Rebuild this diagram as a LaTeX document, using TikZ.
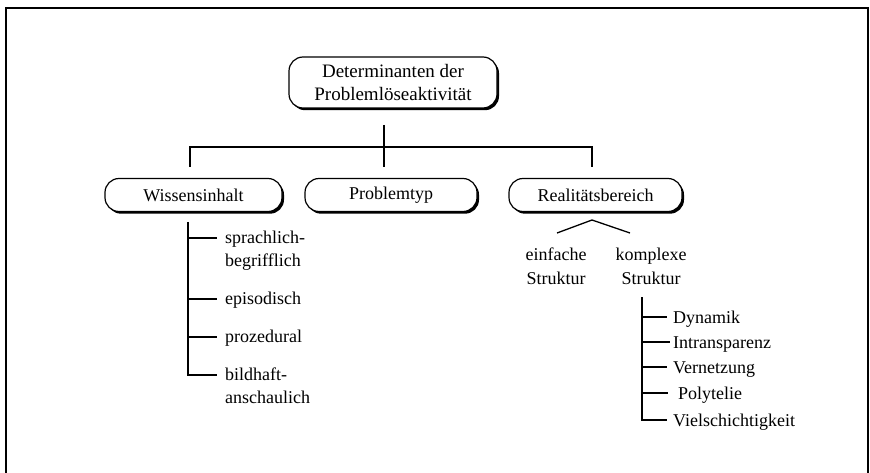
\documentclass[tikz,border=0pt]{standalone}
\usepackage{fontspec}
\setmainfont{Liberation Serif}
\usetikzlibrary{shadows}
\begin{document}
\begin{tikzpicture}[x=1pt,y=-1pt,
  box/.style={draw, line width=1.2pt, rounded corners=14pt, fill=white, inner sep=0pt,
    font=\fontsize{18}{23}\selectfont,
    drop shadow={shadow xshift=2pt, shadow yshift=-2.2pt, fill=black, opacity=1}},
  conn/.style={line width=1.3pt},
  lbl/.style={inner sep=0pt, font=\fontsize{18}{23}\selectfont, align=left, anchor=base west},
  clbl/.style={inner sep=0pt, font=\fontsize{18}{24}\selectfont, align=center, anchor=base},
  frame/.style={line width=1.5pt}]
\useasboundingbox (0,0) rectangle (870,473);
\draw[frame] (6,473) -- (6,8) -- (868,8) -- (868,473);

% boxes
\node[box, minimum width=208pt, minimum height=51pt, align=center,
  font=\fontsize{19}{23}\selectfont] (root) at (393,82.5)
  {Determinanten der\\Problemlöseaktivität};
\node[box, minimum width=177pt, minimum height=33pt] (w) at (193.5,195) {Wissensinhalt};
\node[box, minimum width=172pt, minimum height=33pt] (p) at (391,195) {Problemtyp};
\node[box, minimum width=173pt, minimum height=33pt] (r) at (595.5,195) {Realitätsbereich};

% top tree
\coordinate (rootdrop) at (384,125);
\coordinate (jl) at (190,147);
\coordinate (jr) at (592,147);
\coordinate (wtop) at (190,167);
\coordinate (ptop) at (384,167);
\coordinate (rtop) at (592,167);
\draw[conn] (rootdrop) -- (ptop);
\draw[conn] (wtop) -- (jl) -- (jr) -- (rtop);

% Wissensinhalt list (base anchor = baseline of the last line)
\node[lbl] (w1) at (225,266) {sprachlich-\\begrifflich};
\node[lbl] (w2) at (225,304) {episodisch};
\node[lbl] (w3) at (225,342) {prozedural};
\node[lbl] (w4) at (225,403) {bildhaft-\\anschaulich};
\coordinate (ws) at (188,222);
\draw[conn] (ws) |- ([xshift=-8pt,yshift=28pt]w4.base west);
\draw[conn] (188,238) -- ([xshift=-8pt,yshift=28pt]w1.base west);
\draw[conn] (188,299) -- ([xshift=-8pt,yshift=5pt]w2.base west);
\draw[conn] (188,337) -- ([xshift=-8pt,yshift=5pt]w3.base west);

% Realitaetsbereich split
\coordinate (vapex) at (592,220);
\coordinate (vl) at (557,233);
\coordinate (vr) at (630,233);
\draw[conn] (vl) -- (vapex) -- (vr);
\node[clbl] (es) at (556,284) {einfache\\Struktur};
\node[clbl] (ks) at (651,284) {komplexe\\Struktur};

% komplexe Struktur list
\node[lbl] (k1) at (673,323) {Dynamik};
\node[lbl] (k2) at (673,348) {Intransparenz};
\node[lbl] (k3) at (673,373) {Vernetzung};
\node[lbl] (k4) at (678,399) {Polytelie};
\node[lbl] (k5) at (673,426) {Vielschichtigkeit};
\coordinate (ksp) at (642,297);
\draw[conn] (ksp) |- ([xshift=-6pt,yshift=6pt]k5.base west);
\draw[conn] (642,317) -- ([xshift=-6pt,yshift=6pt]k1.base west);
\draw[conn] (642,342) -- ([xshift=-3pt,yshift=6pt]k2.base west);
\draw[conn] (642,367) -- ([xshift=-6pt,yshift=6pt]k3.base west);
\draw[conn] (642,393) -- ([xshift=-10pt,yshift=6pt]k4.base west);
\end{tikzpicture}
\end{document}
